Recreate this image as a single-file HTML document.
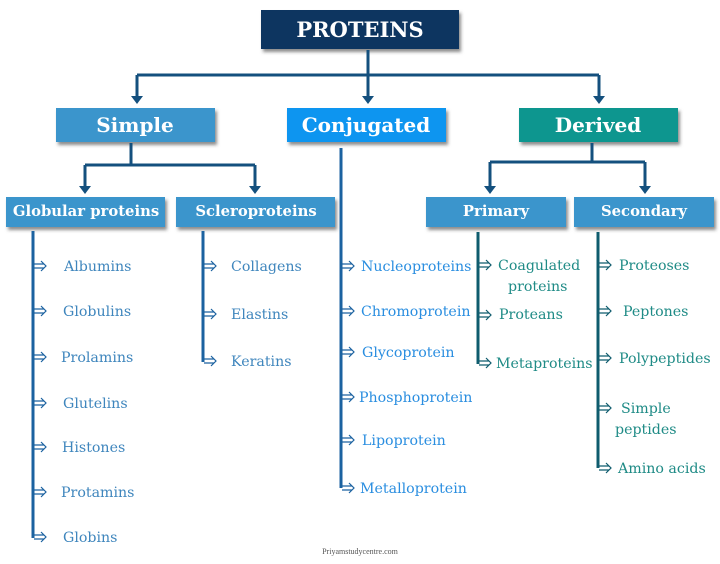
<!DOCTYPE html>
<html><head><meta charset="utf-8"><style>
html,body{margin:0;padding:0;background:#fff;width:720px;height:564px;overflow:hidden}
svg text{font-family:"DejaVu Serif","Liberation Serif",serif}
.b{font-weight:bold;fill:#fff}
.s{fill:#3f86bd;font-size:14.2px}
.c{fill:#2a8ee0;font-size:14.2px}
.d{fill:#1f8b86;font-size:14.2px}
.ar{fill:none;stroke-width:1.2}
</style></head><body>
<svg width="720" height="564" viewBox="0 0 720 564" xmlns="http://www.w3.org/2000/svg">
<defs>
<filter id="sh" x="-5%" y="-10%" width="110%" height="140%"><feDropShadow dx="2" dy="3" stdDeviation="1.5" flood-color="#333" flood-opacity="0.55"/></filter>
</defs>
<rect x="261" y="10" width="198" height="39" fill="#0d3460" filter="url(#sh)"/>
<text x="360" y="37" text-anchor="middle" class="b" font-size="21">PROTEINS</text>
<g stroke="#14507e" stroke-width="3" fill="none">
<path d="M368 50 V100 M137 75 H599 M137 75 V100 M599 75 V100"/>
</g>
<g fill="#14507e">
<path d="M131 96 L137 104 L143 96 Z"/><path d="M362 96 L368 104 L374 96 Z"/><path d="M593 96 L599 104 L605 96 Z"/>
</g>
<rect x="56" y="108" width="159" height="34" fill="#3a95cc" filter="url(#sh)"/>
<rect x="287" y="108" width="159" height="34" fill="#0b95f0" filter="url(#sh)"/>
<rect x="519" y="108" width="159" height="34" fill="#0f968f" filter="url(#sh)"/>
<text x="135" y="132" text-anchor="middle" class="b" font-size="20">Simple</text>
<text x="366" y="132" text-anchor="middle" class="b" font-size="20">Conjugated</text>
<text x="598" y="132" text-anchor="middle" class="b" font-size="20">Derived</text>
<g stroke="#14507e" stroke-width="3" fill="none">
<path d="M131 143 V165 M85 165 H255 M85 165 V190 M255 165 V190"/>
<path d="M592 143 V162 M490 162 H645 M490 162 V190 M645 162 V190"/>
</g>
<g fill="#14507e">
<path d="M79 186 L85 194 L91 186 Z"/><path d="M249 186 L255 194 L261 186 Z"/>
<path d="M484 186 L490 194 L496 186 Z"/><path d="M639 186 L645 194 L651 186 Z"/>
</g>
<rect x="6" y="197" width="159" height="30" fill="#3a95cc" filter="url(#sh)"/>
<rect x="176" y="197" width="159" height="30" fill="#3a95cc" filter="url(#sh)"/>
<rect x="426" y="197" width="140" height="30" fill="#3a95cc" filter="url(#sh)"/>
<rect x="574" y="197" width="140" height="30" fill="#3a95cc" filter="url(#sh)"/>
<text x="86" y="216" text-anchor="middle" class="b" font-size="14.8">Globular proteins</text>
<text x="256" y="216" text-anchor="middle" class="b" font-size="14.8">Scleroproteins</text>
<text x="496" y="216" text-anchor="middle" class="b" font-size="14.8">Primary</text>
<text x="644" y="216" text-anchor="middle" class="b" font-size="14.8">Secondary</text>
<g stroke-width="3" fill="none">
<path d="M33 231 V538" stroke="#1b62a0"/>
<path d="M203 231 V362" stroke="#1b62a0"/>
<path d="M341 148 V488" stroke="#1b62a0"/>
<path d="M478 232 V364" stroke="#0f5c6e"/>
<path d="M598 232 V468" stroke="#0f5c6e"/>
</g>
<g class="ar" stroke="#1b62a0">
<path d="M34 264h10M34 268h10M41 261l5 5l-5 5"/>
<path d="M34 309h10M34 313h10M41 306l5 5l-5 5"/>
<path d="M34 355h10M34 359h10M41 352l5 5l-5 5"/>
<path d="M34 401h10M34 405h10M41 398l5 5l-5 5"/>
<path d="M34 445h10M34 449h10M41 442l5 5l-5 5"/>
<path d="M34 490h10M34 494h10M41 487l5 5l-5 5"/>
<path d="M34 535h10M34 539h10M41 532l5 5l-5 5"/>
<path d="M204 264h10M204 268h10M211 261l5 5l-5 5"/>
<path d="M204 312h10M204 316h10M211 309l5 5l-5 5"/>
<path d="M204 359h10M204 363h10M211 356l5 5l-5 5"/>
<path d="M342 264h10M342 268h10M349 261l5 5l-5 5"/>
<path d="M342 309h10M342 313h10M349 306l5 5l-5 5"/>
<path d="M342 350h10M342 354h10M349 347l5 5l-5 5"/>
<path d="M342 395h10M342 399h10M349 392l5 5l-5 5"/>
<path d="M342 438h10M342 442h10M349 435l5 5l-5 5"/>
<path d="M342 486h10M342 490h10M349 483l5 5l-5 5"/>
</g>
<g class="ar" stroke="#0f5c6e">
<path d="M479 263h10M479 267h10M486 260l5 5l-5 5"/>
<path d="M479 313h10M479 317h10M486 310l5 5l-5 5"/>
<path d="M479 361h10M479 365h10M486 358l5 5l-5 5"/>
<path d="M599 263h10M599 267h10M606 260l5 5l-5 5"/>
<path d="M599 309h10M599 313h10M606 306l5 5l-5 5"/>
<path d="M599 356h10M599 360h10M606 353l5 5l-5 5"/>
<path d="M599 406h10M599 410h10M606 403l5 5l-5 5"/>
<path d="M599 466h10M599 470h10M606 463l5 5l-5 5"/>
</g>
<g class="s">
<text x="64" y="271">Albumins</text>
<text x="63" y="316">Globulins</text>
<text x="61" y="362">Prolamins</text>
<text x="63" y="408">Glutelins</text>
<text x="62" y="452">Histones</text>
<text x="61" y="497">Protamins</text>
<text x="63" y="542">Globins</text>
<text x="231" y="271">Collagens</text>
<text x="231" y="319">Elastins</text>
<text x="231" y="366">Keratins</text>
</g>
<g class="c">
<text x="361" y="271">Nucleoproteins</text>
<text x="361" y="316">Chromoprotein</text>
<text x="362" y="357">Glycoprotein</text>
<text x="359" y="402">Phosphoprotein</text>
<text x="362" y="445">Lipoprotein</text>
<text x="360" y="493">Metalloprotein</text>
</g>
<g class="d">
<text x="498" y="270">Coagulated</text>
<text x="508" y="291">proteins</text>
<text x="499" y="319">Proteans</text>
<text x="496" y="368">Metaproteins</text>
<text x="619" y="270">Proteoses</text>
<text x="623" y="316">Peptones</text>
<text x="619" y="363">Polypeptides</text>
<text x="621" y="413">Simple</text>
<text x="615" y="434">peptides</text>
<text x="618" y="473">Amino acids</text>
</g>
<text x="360" y="554" text-anchor="middle" font-size="8" fill="#555" style="font-family:'Liberation Serif',serif">Priyamstudycentre.com</text>
</svg>
</body></html>
